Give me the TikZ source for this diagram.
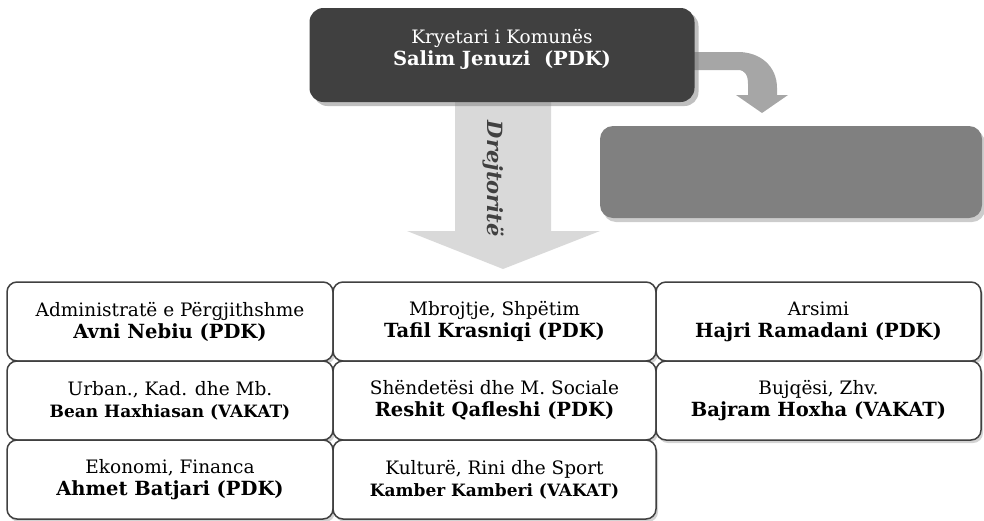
\documentclass[tikz,border=0pt]{standalone}
\usepackage{fontspec}
\setmainfont{DejaVu Serif}
\usetikzlibrary{shadows}
\definecolor{topgray}{HTML}{404040}
\definecolor{bentgray}{HTML}{A6A6A6}
\definecolor{midgray}{HTML}{808080}
\definecolor{lightgray}{HTML}{D9D9D9}
\definecolor{boxline}{HTML}{404040}
\newcommand\deptname[1]{{\fontsize{19.5}{22}\selectfont\bfseries #1}}
\newcommand\deptsmall[1]{{\fontsize{17}{22}\selectfont\bfseries #1}}
\begin{document}
\begin{tikzpicture}[x=1pt,y=-1pt,
  deptbox/.style={draw=boxline, line width=1.5pt, rounded corners=10pt, fill=white,
    align=center, inner sep=0pt, minimum height=79pt,
    font=\fontsize{18.5}{22}\selectfont,
    drop shadow={opacity=0.35, shadow xshift=2pt, shadow yshift=-3pt}},
  headbox/.style={fill=topgray, rounded corners=14pt, inner sep=0pt,
    drop shadow={opacity=0.5, shadow xshift=4pt, shadow yshift=-4pt}},
  greybox/.style={fill=midgray, rounded corners=13pt, inner sep=0pt,
    drop shadow={opacity=0.4, shadow xshift=3pt, shadow yshift=-4pt}}]
\useasboundingbox (0,0) rectangle (984,520);
% down arrow
\path[fill=lightgray] (455,100) -- (551,100) -- (551,231) -- (600,231) -- (503,269)
  -- (407,231) -- (455,231) -- cycle;
% bent arrow
\path[fill=bentgray] (690,52) -- (738,52) .. controls (760,52) and (777,66) .. (777,88)
  -- (777,95) -- (788,95) -- (762,113) -- (736,95) -- (748,95) -- (748,84)
  .. controls (748,75) and (745,70) .. (738,70) -- (690,70) -- cycle;
% top box
\node[headbox, minimum width=385pt, minimum height=94pt] (mayor) at (502,55) {};
\node[text=white, align=center, font=\fontsize{18.5}{22}\selectfont] (mayortext) at (502,49)
  {Kryetari i Komunës\\\deptname{Salim Jenuzi\ \ (PDK)}};
% grey box
\node[greybox, minimum width=382pt, minimum height=92pt] (side) at (791,172) {};
% label on arrow
\node[rotate=-90, text=topgray, font=\fontsize{21}{21}\selectfont\bfseries\itshape] (dirlabel) at (493,179) {Drejtoritë};
% department boxes
\node[deptbox, minimum width=326pt] (a1) at (170,321.5)
  {Administratë e Përgjithshme\\\deptname{Avni Nebiu (PDK)}};
\node[deptbox, minimum width=326pt] (a2) at (170,400.5)
  {Urban., Kad. dhe Mb.\\\deptsmall{Bean Haxhiasan (VAKAT)}};
\node[deptbox, minimum width=326pt] (a3) at (170,479.5)
  {Ekonomi, Financa\\\deptname{Ahmet Batjari (PDK)}};
\node[deptbox, minimum width=323pt] (b1) at (494.5,321.5)
  {Mbrojtje, Shpëtim\\\deptname{Tafil Krasniqi (PDK)}};
\node[deptbox, minimum width=323pt] (b2) at (494.5,400.5)
  {Shëndetësi dhe M. Sociale\\\deptname{Reshit Qafleshi (PDK)}};
\node[deptbox, minimum width=323pt] (b3) at (494.5,479.5)
  {Kulturë, Rini dhe Sport\\\deptsmall{Kamber Kamberi (VAKAT)}};
\node[deptbox, minimum width=325pt] (c1) at (818.5,321.5)
  {Arsimi\\\deptname{Hajri Ramadani (PDK)}};
\node[deptbox, minimum width=325pt] (c2) at (818.5,400.5)
  {Bujqësi, Zhv.\\\deptname{Bajram Hoxha (VAKAT)}};
\end{tikzpicture}
\end{document}
